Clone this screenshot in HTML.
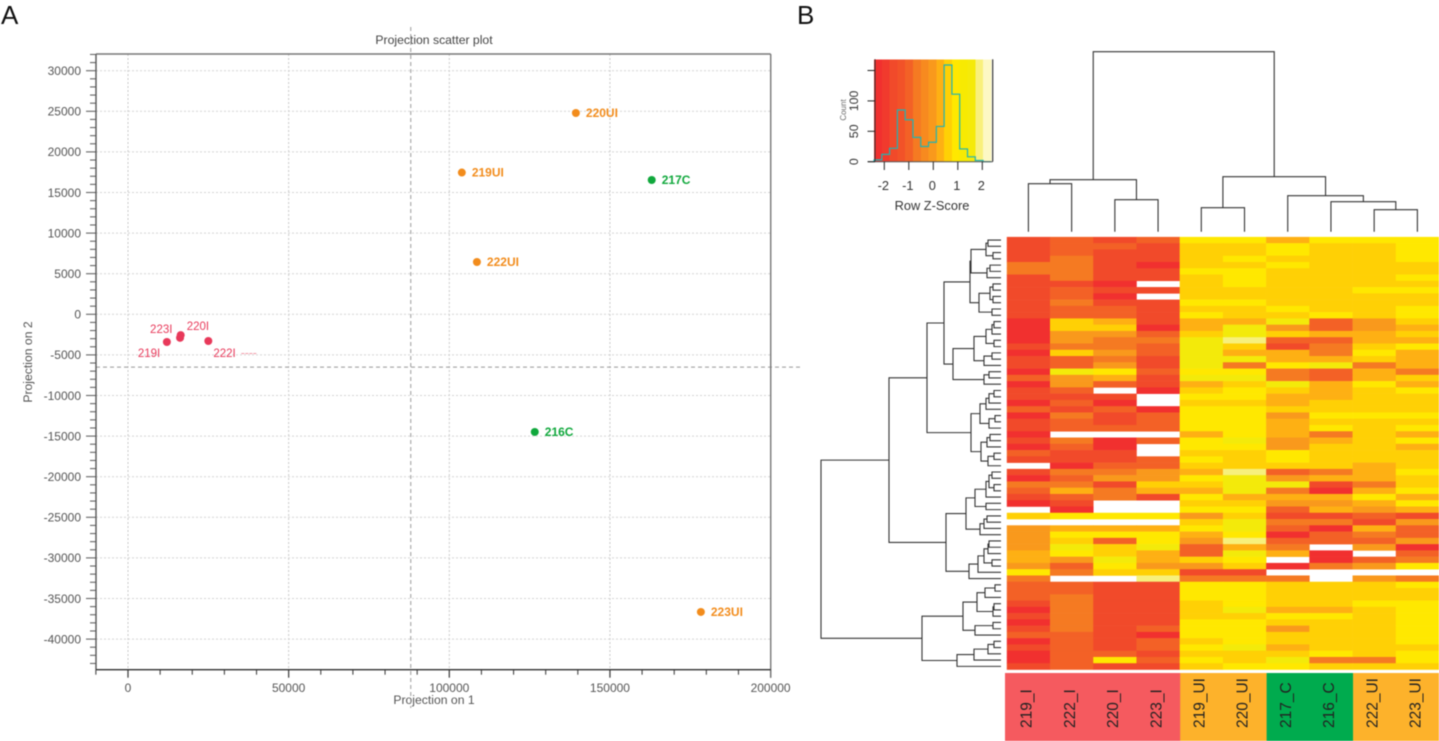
<!DOCTYPE html>
<html lang="en">
<head>
<meta charset="utf-8">
<title>Projection scatter plot and heatmap</title>
<style>
  html, body { margin: 0; padding: 0; background: #fff; }
  body { width: 1439px; height: 741px; overflow: hidden; }
  svg { display: block; font-family: "Liberation Sans", sans-serif; }
  #figure { filter: blur(0.45px); }
</style>
</head>
<body>
<svg id="figure" xmlns="http://www.w3.org/2000/svg" width="1439" height="741" viewBox="0 0 1439 741">
  <text x="1" y="24" font-size="26" fill="#111">A</text>
  <text x="797" y="24" font-size="26" fill="#111">B</text>

  <g id="scatter">
    <text x="434" y="44" font-size="12.2" fill="#444" text-anchor="middle">Projection scatter plot</text>
    <text x="434" y="704" font-size="12.2" fill="#555" text-anchor="middle">Projection on 1</text>
    <text x="0" y="0" font-size="12.2" fill="#555" text-anchor="middle" transform="translate(32 362) rotate(-90)">Projection on 2</text>
    <g id="scatter-grid"></g>
    <g id="scatter-axes"></g>
    <g id="scatter-points"></g>
  </g>

  <g id="histogram">
    <text x="0" y="0" font-size="8" fill="#666" text-anchor="middle" transform="translate(846 110) rotate(-90)">Count</text>
    <text x="932" y="210" font-size="12.8" fill="#333" text-anchor="middle">Row Z-Score</text>
  </g>

  <g id="column-dendrogram"></g>
  <g id="row-dendrogram"></g>
  <g id="heatmap"></g>
  <g id="annotation"></g>
</svg>

<script>
// ---------- Scatter data ----------
const xTicks = [0, 50000, 100000, 150000, 200000];
const yTicks = [30000, 25000, 20000, 15000, 10000, 5000, 0, -5000, -10000, -15000, -20000, -25000, -30000, -35000, -40000];
const pointNames = ['220UI', '219UI', '217C', '222UI', '216C', '223UI', '219I', '223I', '220I', '222I'];
const pointGroups = ['UI', 'UI', 'C', 'UI', 'C', 'UI', 'I', 'I', 'I', 'I'];
const projection1 = [139400, 103900, 163000, 108600, 126600, 178300, 12100, 16200, 16400, 25000];
const projection2 = [24790, 17460, 16540, 6440, -14490, -36660, -3410, -2900, -2560, -3290];
const crosshairValueX = 88000;
const crosshairValueY = -6500;

// ---------- Histogram data ----------
const histEdgeStart = -2.42;
const histBinWidth = 0.318;
const histCounts = [3, 12, 22, 85, 69, 40, 25, 32, 58, 159, 111, 21, 8, 2, 0];
const histXTicks = [-2, -1, 0, 1, 2];
const histYTicks = [0, 50, 100, 150];
const histYLabels = ['0', '50', '100'];

// ---------- Heatmap data (colour-bin level per cell; null = missing) ----------
const columnNames = ['219_I', '222_I', '220_I', '223_I', '219_UI', '220_UI', '217_C', '216_C', '222_UI', '223_UI'];
const columnGroups = ['I', 'I', 'I', 'I', 'UI', 'UI', 'C', 'C', 'UI', 'UI'];
const n = null;
const heatLevels = [
  [1,2,1,2,7,7,5,7,7,7],
  [1,2,2,1,6,6,7,6,6,7],
  [1,2,1,1,6,6,7,6,6,7],
  [1,3,1,1,6,7,6,6,6,7],
  [3,3,1,0,6,6,7,6,6,6],
  [3,3,1,1,7,7,6,6,6,6],
  [1,3,1,1,6,7,6,6,6,7],
  [1,1,0,n,6,7,6,6,6,6],
  [1,2,1,1,6,6,6,6,7,7],
  [1,2,0,n,6,6,6,6,6,6],
  [1,3,1,1,7,7,6,6,6,6],
  [1,2,2,1,6,6,7,6,6,7],
  [1,2,2,1,7,6,6,7,6,7],
  [0,6,5,1,5,5,8,2,4,6],
  [0,6,6,0,5,8,4,2,4,5],
  [0,4,4,2,6,8,6,5,5,6],
  [0,4,3,3,8,9,2,2,5,5],
  [1,3,3,2,8,6,1,3,6,7],
  [0,6,4,2,8,5,5,3,7,5],
  [1,2,3,1,8,8,5,5,6,5],
  [1,2,4,1,8,3,7,8,3,5],
  [0,8,7,2,7,7,3,2,5,3],
  [2,4,5,1,8,8,3,2,5,6],
  [0,4,2,1,5,6,8,5,7,5],
  [1,2,n,0,6,7,6,5,6,7],
  [1,1,1,n,7,7,5,5,6,6],
  [0,2,0,n,6,6,5,6,6,6],
  [2,1,2,0,7,7,6,6,6,6],
  [0,3,1,2,7,7,4,7,7,7],
  [1,2,1,2,7,7,5,6,6,6],
  [1,2,2,2,7,7,5,7,6,7],
  [0,n,n,n,5,7,5,3,6,5],
  [1,3,0,2,7,8,4,5,6,7],
  [0,2,0,n,7,7,4,6,6,5],
  [2,1,1,n,6,6,7,6,6,6],
  [1,1,1,2,7,6,7,6,6,6],
  [n,0,2,2,6,6,6,6,5,6],
  [1,3,3,4,5,9,2,3,5,7],
  [0,2,4,4,7,8,4,5,5,6],
  [3,3,1,6,6,8,8,1,3,6],
  [2,5,3,5,5,8,3,0,5,7],
  [1,2,3,1,7,5,5,5,7,5],
  [0,1,n,n,6,6,4,4,5,7],
  [n,0,n,n,7,7,2,5,4,5],
  [6,7,7,7,4,6,1,1,2,1],
  [n,n,n,n,6,8,3,3,1,4],
  [4,5,5,5,7,8,2,0,5,2],
  [4,7,7,7,5,7,0,2,3,2],
  [4,6,2,7,4,9,2,2,2,4],
  [4,8,6,8,2,5,3,n,4,0],
  [5,7,6,5,2,8,5,0,n,2],
  [5,4,8,5,6,7,n,0,2,3],
  [4,2,7,4,4,6,0,3,4,7],
  [7,3,6,6,1,1,n,n,n,n],
  [3,n,n,9,3,3,3,n,4,3],
  [2,2,1,1,7,7,6,6,6,7],
  [2,2,1,1,7,7,6,6,6,6],
  [2,3,1,1,7,7,6,6,6,6],
  [1,3,1,1,6,7,6,6,7,7],
  [0,3,1,1,6,8,5,5,6,7],
  [1,3,1,1,6,6,7,7,6,7],
  [0,3,1,1,7,7,6,6,6,7],
  [1,3,1,2,7,7,4,6,6,7],
  [2,2,1,0,7,7,6,6,6,7],
  [0,2,1,2,6,7,6,6,6,7],
  [1,2,1,2,7,8,5,6,6,6],
  [0,2,2,1,6,6,6,7,6,7],
  [0,2,7,2,7,6,8,3,3,7],
  [1,2,1,1,6,7,7,6,6,6]
];

// ---------- Dendrogram data: [merge distance, child, child]; L = leaf, in display order ----------
const L = 0;
const columnTree = [180,
  [52, [48, L, L], [32, L, L]],
  [55, [24, L, L], [36, L, [30, L, [22, L, L]]]]
];
const rowTree = [180,
  [112,
    [74,
      [57,
        [31,
          [30, [15, [13, L, L], [8, L, L]], [14, [11, L, L], L]],
          [22, [11, [8, L, L], [8, L, L]], [9, L, L]]
        ],
        [48,
          [27, [15, [9, [7, L, L], L], [7, L, L]], [17, [9, L, L], L]],
          [17, [12, L, L], L]
        ]
      ],
      [30,
        [21, [15, [12, [7, L, L], L], L], [12, [6, L, L], L]],
        [20, [14, [11, L, L], L], [13, [7, L, L], L]]
      ]
    ],
    [55,
      [35,
        [26, [15, [12, [9, L, L], [7, L, L]], L], [15, L, L]],
        [21, [17, [14, L, L], L], L]
      ],
      [32, [23, [17, [13, [12, L, L], L], [9, L, L]], L], L]
    ]
  ],
  [79,
    [38, [24, [16, [6, L, L], L], [8, [7, L, L], L]], [26, [8, L, L], L]],
    [44, [27, [13, [7, L, L], L], L], L]
  ]
];

// ---------- Styles and layout (not data) ----------
const SVGNS = 'http://www.w3.org/2000/svg';
const groupColors = { I: '#e8395a', UI: '#f28c1c', C: '#10a83c' };
const annotationColors = { I: '#f55a5f', UI: '#fdb22b', C: '#00ab4e' };
const heatPalette = ['#f1302f', '#f14a2a', '#f36126', '#f57a22', '#f9991c', '#feb013', '#ffd005', '#ffe800', '#f3ea0a', '#f7f07c'];
const histPalette = ['#f1302f', '#f13a2d', '#f14a2a', '#f25228', '#f36126', '#f57a22', '#f78a1f', '#f9991c', '#feb013', '#ffd005', '#ffe800', '#f7ea02', '#f5ea0a', '#f9f07c', '#fdf8c4'];
const labelPlacement = {
  '219I': { dx: -29, dy: 15 },
  '223I': { dx: -30, dy: -5 },
  '220I': { dx: 6, dy: -5 },
  '222I': { dx: 5, dy: 16 }
};

function make(tag, attrs, text) {
  const node = document.createElementNS(SVGNS, tag);
  for (const k in attrs) node.setAttribute(k, attrs[k]);
  if (text !== undefined) node.textContent = text;
  return node;
}

// ---------- Scatter axes functions ----------
const scatterX = v => 128 + v * (321.3 / 100000);
const scatterY = v => 314.3 - v * (243.6 / 30000);
const PLOT = { left: 96, right: 770.7, top: 54, bottom: 669.7 };

const gridLayer = document.getElementById('scatter-grid');
const axisLayer = document.getElementById('scatter-axes');
const pointLayer = document.getElementById('scatter-points');

xTicks.forEach(t => {
  const line = make('line', { x1: scatterX(t), x2: scatterX(t), y1: PLOT.top, y2: PLOT.bottom, stroke: '#c8c8c8', 'stroke-width': 1, 'stroke-dasharray': '2 2' });
  
  
  gridLayer.appendChild(line);
});
yTicks.forEach(t => {
  const line = make('line', { x1: PLOT.left, x2: PLOT.right, y1: scatterY(t), y2: scatterY(t), stroke: '#d4d4d4', 'stroke-width': 1, 'stroke-dasharray': '2 2' });
  
  
  gridLayer.appendChild(line);
});

const crossV = make('line', { x1: scatterX(crosshairValueX), x2: scatterX(crosshairValueX), y1: 27, y2: 708, stroke: '#999', 'stroke-width': 1, 'stroke-dasharray': '4 3' });


gridLayer.appendChild(crossV);

const crossH = make('line', { x1: PLOT.left, x2: 803, y1: scatterY(crosshairValueY), y2: scatterY(crosshairValueY), stroke: '#999', 'stroke-width': 1, 'stroke-dasharray': '4 3' });


gridLayer.appendChild(crossH);

for (let v = -10000; v <= 200000; v += 10000) {
  const major = v % 50000 === 0;
  const tick = make('line', { x1: scatterX(v), x2: scatterX(v), y1: PLOT.bottom, y2: PLOT.bottom + (major ? 8 : 5), stroke: '#444', 'stroke-width': major ? 1.3 : 1.1 });
  
  
  axisLayer.appendChild(tick);
}
for (let v = -43000; v <= 32000; v += 1000) {
  const major = v % 5000 === 0;
  const tick = make('line', { x1: PLOT.left - (major ? 10 : 6), x2: PLOT.left, y1: scatterY(v), y2: scatterY(v), stroke: '#666', 'stroke-width': 1.1 });
  
  
  axisLayer.appendChild(tick);
}
xTicks.forEach(t => {
  const label = make('text', { x: scatterX(t), y: 692, 'font-size': 12, fill: '#555', 'text-anchor': 'middle' }, String(t));
  
  
  axisLayer.appendChild(label);
});
yTicks.forEach(t => {
  const label = make('text', { x: 81, y: scatterY(t) + 4.3, 'font-size': 12, fill: '#555', 'text-anchor': 'end' }, String(t));
  
  
  axisLayer.appendChild(label);
});

const topAxis = make('line', { x1: PLOT.left, x2: PLOT.right, y1: PLOT.top, y2: PLOT.top, stroke: '#777', 'stroke-width': 1.4 });


axisLayer.appendChild(topAxis);

const rightAxis = make('line', { x1: PLOT.right, x2: PLOT.right, y1: PLOT.top, y2: PLOT.bottom + 8, stroke: '#777', 'stroke-width': 1.4 });


axisLayer.appendChild(rightAxis);

const leftAxis = make('line', { x1: PLOT.left, x2: PLOT.left, y1: PLOT.top, y2: PLOT.bottom, stroke: '#555', 'stroke-width': 1.4 });


axisLayer.appendChild(leftAxis);

const bottomAxis = make('line', { x1: PLOT.left, x2: PLOT.right, y1: PLOT.bottom, y2: PLOT.bottom, stroke: '#333', 'stroke-width': 1.4 });


axisLayer.appendChild(bottomAxis);

pointNames.forEach((name, i) => {
  const color = groupColors[pointGroups[i]];
  const px = scatterX(projection1[i]);
  const py = scatterY(projection2[i]);
  const dot = make('circle', { cx: px, cy: py, r: 4, fill: color });
  
  
  pointLayer.appendChild(dot);
  const place = labelPlacement[name] || { dx: 10, dy: 4 };
  const isRed = pointGroups[i] === 'I';
  const label = make('text', { x: px + place.dx, y: py + place.dy, 'font-size': isRed ? 11.5 : 12, 'font-weight': isRed ? 'normal' : 'bold', fill: color }, name);
  
  
  pointLayer.appendChild(label);
  if (name === '222I') {
    const leader = make('line', { x1: px + 33, x2: px + 48, y1: py + 12.5, y2: py + 12.5, stroke: '#f29aa8', 'stroke-width': 1, 'stroke-dasharray': '3 1' });
    
    
    pointLayer.appendChild(leader);
  }
});

// ---------- Histogram ----------
const histX = z => 933.3 + z * 24.5;
const histY = c => 161.7 - c * 0.608;
const histLayer = document.getElementById('histogram');

histCounts.forEach((c, i) => {
  const left = histX(histEdgeStart + i * histBinWidth);
  const right = histX(histEdgeStart + (i + 1) * histBinWidth);
  const band = make('rect', { x: left, y: 59.3, width: right - left + 0.4, height: 102.4, fill: histPalette[i], 'shape-rendering': 'crispEdges' });
  
  
  histLayer.appendChild(band);
});

let histPath = 'M' + histX(histEdgeStart) + ' ' + histY(0);
histCounts.forEach((c, i) => {
  histPath += ' L' + histX(histEdgeStart + i * histBinWidth) + ' ' + histY(c);
  histPath += ' L' + histX(histEdgeStart + (i + 1) * histBinWidth) + ' ' + histY(c);
});
const histLine = make('path', { d: histPath, fill: 'none', stroke: '#1fb4b4', 'stroke-width': 1.2 });


histLayer.appendChild(histLine);

const histRight = make('line', { x1: 992.7, x2: 992.7, y1: 59.3, y2: 161.7, stroke: '#111', 'stroke-width': 1 });


histLayer.appendChild(histRight);

const histLeft = make('line', { x1: 875, x2: 875, y1: 59.3, y2: 161.7, stroke: '#333', 'stroke-width': 1 });


histLayer.appendChild(histLeft);

const histBottom = make('line', { x1: 868, x2: 992.7, y1: 161.7, y2: 161.7, stroke: '#555', 'stroke-width': 1 });


histLayer.appendChild(histBottom);

histYTicks.forEach(t => {
  const tick = make('line', { x1: 867.5, x2: 875, y1: histY(t), y2: histY(t), stroke: '#222', 'stroke-width': 1 });
  
  
  histLayer.appendChild(tick);
});
histYLabels.forEach(t => {
  const label = make('text', { x: 0, y: 0, 'font-size': 12.4, fill: '#333', 'text-anchor': 'middle', transform: 'translate(858 ' + histY(Number(t)) + ') rotate(-90)' }, t);
  
  
  histLayer.appendChild(label);
});
histXTicks.forEach(t => {
  const tick = make('line', { x1: histX(t), x2: histX(t), y1: 161.7, y2: 170, stroke: '#222', 'stroke-width': 1 });
  
  
  histLayer.appendChild(tick);
  const label = make('text', { x: histX(t) - 1, y: 190, 'font-size': 12.8, fill: '#333', 'text-anchor': 'middle' }, String(t));
  
  
  histLayer.appendChild(label);
});

// ---------- Heatmap ----------
const heatLeft = 1006.8;
const heatTop = 236.9;
const cellW = 43.22;
const cellH = 432.6 / heatLevels.length;
const heatX = c => heatLeft + c * cellW;
const heatY = r => heatTop + r * cellH;
const heatLayer = document.getElementById('heatmap');

heatLevels.forEach((row, r) => {
  row.forEach((level, c) => {
    if (level === null) return;
    const cell = make('rect', { x: heatX(c), y: heatY(r), width: cellW + 0.3, height: cellH + 0.3, fill: heatPalette[level] });
    
    
    heatLayer.appendChild(cell);
  });
});

// ---------- Annotation bar ----------
const annotationLayer = document.getElementById('annotation');
const annoLeft = i => (i === 0 ? 1005 : heatX(i) + 0.5);
columnNames.forEach((name, i) => {
  const right = i === columnNames.length - 1 ? 1439 : annoLeft(i + 1);
  const block = make('rect', { x: annoLeft(i), y: 673, width: right - annoLeft(i) + 0.3, height: 68, fill: annotationColors[columnGroups[i]] });
  
  
  annotationLayer.appendChild(block);
});
columnNames.forEach((name, i) => {
  const base = heatX(i + 0.5) + 3.2;
  const label = make('text', { x: 0, y: 0, 'font-size': 15.5, fill: '#222', transform: 'translate(' + base + ' 728) rotate(-90)' }, name);
  
  
  annotationLayer.appendChild(label);
});

// ---------- Dendrograms ----------
const rowDendroX = d => 1001 - d;
const rowLeafY = i => heatY(i + 0.5);
const colDendroY = d => 231.7 - d;
const colLeafX = i => heatX(i + 0.5);

function layoutTree(node, counter, position, emit) {
  if (node === L) {
    const at = position(counter.i);
    counter.i += 1;
    return { at: at, dist: 0 };
  }
  const a = layoutTree(node[1], counter, position, emit);
  const b = layoutTree(node[2], counter, position, emit);
  const at = (a.at + b.at) / 2;
  emit(a, b, node[0]);
  return { at: at, dist: node[0] };
}

const rowLayer = document.getElementById('row-dendrogram');
layoutTree(rowTree, { i: 0 }, rowLeafY, (a, b, d) => {
  const link = make('path', {
    d: 'M' + rowDendroX(a.dist) + ' ' + a.at + ' H' + rowDendroX(d) + ' V' + b.at + ' H' + rowDendroX(b.dist),
    fill: 'none', stroke: '#333', 'stroke-width': 1.1
  });
  
  
  rowLayer.appendChild(link);
});

const colLayer = document.getElementById('column-dendrogram');
layoutTree(columnTree, { i: 0 }, colLeafX, (a, b, d) => {
  const link = make('path', {
    d: 'M' + a.at + ' ' + colDendroY(a.dist) + ' V' + colDendroY(d) + ' H' + b.at + ' V' + colDendroY(b.dist),
    fill: 'none', stroke: '#333', 'stroke-width': 1.1
  });
  
  
  colLayer.appendChild(link);
});
</script>
</body>
</html>
